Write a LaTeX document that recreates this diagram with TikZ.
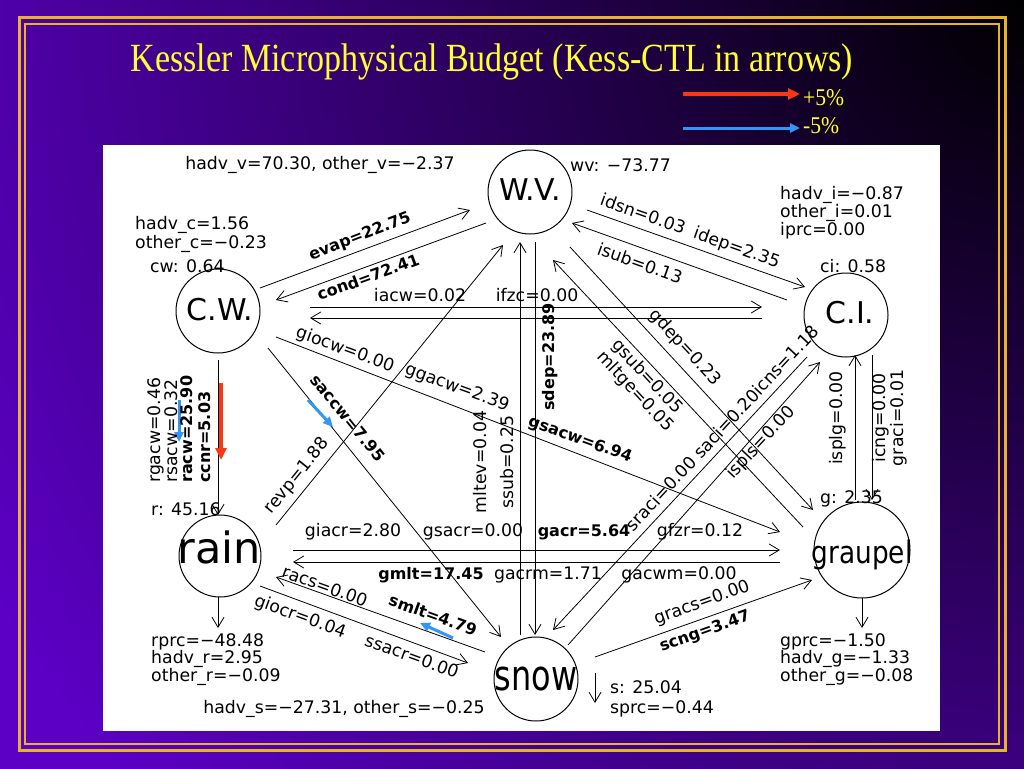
\documentclass[tikz,border=0pt]{standalone}
\usepackage{fontspec}
\setmainfont{Liberation Serif}
\setsansfont{DejaVu Sans}
\usetikzlibrary{arrows.meta}
\definecolor{bgpurple}{RGB}{92,0,198}
\definecolor{framegold}{RGB}{230,180,40}
\definecolor{titleyellow}{RGB}{255,255,50}
\definecolor{plusred}{RGB}{250,55,20}
\definecolor{minusblue}{RGB}{50,150,245}
\begin{document}
\begin{tikzpicture}[x=1pt,y=-1pt,
  lab/.style={font=\sffamily\fontsize{17.3}{17.3}\selectfont, inner sep=0pt},
  blab/.style={font=\sffamily\bfseries\fontsize{16}{16}\selectfont, inner sep=0pt},
  txt/.style={lab, anchor=base west},
  circ/.style={draw, circle, line width=1pt, inner sep=0pt},
  clab/.style={font=\sffamily, inner sep=0pt, anchor=base},
  conn/.style={line width=0.8pt, -{Straight Barb[length=10pt,width=12pt]}},
  hot/.style={plusred, line width=4pt, -{Triangle[length=12pt,width=11pt]}},
  cold/.style={minusblue, line width=3pt, -{Triangle[length=10pt,width=9pt]}},
]
\useasboundingbox (0,0) rectangle (1024,768);
% background
\begin{scope}
\clip (-4,-4) rectangle (1028,772);
\fill[bgpurple] (-4,-4) rectangle (1028,772);
\shade[inner color=black, outer color=bgpurple] (1024,0) circle (1200);
\end{scope}
\draw[framegold, line width=3pt] (19,18) rectangle (1005,750);
\draw[framegold, line width=1.3pt] (25,24) rectangle (999,744);
\fill[white] (103,145) rectangle (940,731);

% title and legend
\node[titleyellow, inner sep=0pt] (title) at (492,62) {\scalebox{0.85}[1]{\fontsize{40}{40}\selectfont Kessler Microphysical Budget (Kess-CTL in arrows)}};
\coordinate (lgRa) at (683,94); \coordinate (lgRb) at (800,94);
\coordinate (lgBa) at (683,128); \coordinate (lgBb) at (800,128);
\draw[hot] (lgRa) -- (lgRb);
\draw[cold] (lgBa) -- (lgBb);
\node[titleyellow, anchor=west, inner sep=0pt] (lgRt) at (803,98) {\scalebox{0.9}[1]{\fontsize{24}{24}\selectfont +5\%}};
\node[titleyellow, anchor=west, inner sep=0pt] (lgBt) at (803,126) {\scalebox{0.9}[1]{\fontsize{24}{24}\selectfont -5\%}};

% circles
\node[circ, minimum size=84pt] (wv) at (530,192) {};
\node[circ, minimum size=84pt] (cw) at (218,311) {};
\node[circ, minimum size=84pt] (ci) at (846,315) {};
\node[circ, minimum size=82pt] (rain) at (220,556) {};
\node[circ, minimum size=84pt] (snow) at (536,679) {};
\node[circ, minimum size=96pt] (graupel) at (862,550) {};
\node[clab] (wvl) at (530,200) {\fontsize{30}{30}\selectfont W.V.};
\node[clab] (cwl) at (220,320) {\fontsize{30}{30}\selectfont C.W.};
\node[clab] (cil) at (850,323) {\fontsize{30}{30}\selectfont C.I.};
\node[clab] (rainl) at (219,563) {\fontsize{43}{43}\selectfont rain};
\node[clab] (snowl) at (536,690) {\scalebox{0.76}[1]{\fontsize{42}{42}\selectfont snow}};
\node[clab] (graupell) at (862,563) {\scalebox{0.85}[1]{\fontsize{31}{31}\selectfont graupel}};

% connector end points
\coordinate (evA) at (260,288); \coordinate (evB) at (470,210);
\coordinate (coA) at (486,223); \coordinate (coB) at (276,300);
\coordinate (iaA) at (310,307); \coordinate (iaB) at (762,307);
\coordinate (ifA) at (762,318); \coordinate (ifB) at (310,318);
\coordinate (idA) at (587,210); \coordinate (idB) at (805,287);
\coordinate (isA) at (787,300); \coordinate (isB) at (572,223);
\coordinate (mlA) at (520,635); \coordinate (mlB) at (520,242);
\coordinate (sdA) at (535,242); \coordinate (sdB) at (535,635);
\coordinate (raA) at (218,360); \coordinate (raB) at (218,515);
\coordinate (saA) at (268,348); \coordinate (saB) at (501,637);
\coordinate (reA) at (276,525); \coordinate (reB) at (503,245);
\coordinate (ggA) at (276,337); \coordinate (ggB) at (780,532);
\coordinate (gaA) at (293,550); \coordinate (gaB) at (780,550);
\coordinate (gmA) at (780,562); \coordinate (gmB) at (293,562);
\coordinate (rcA) at (485,652); \coordinate (rcB) at (276,577);
\coordinate (giA) at (260,586); \coordinate (giB) at (468,663);
\coordinate (gcA) at (595,657); \coordinate (gcB) at (812,580);
\coordinate (srA) at (807,357); \coordinate (srB) at (553,630);
\coordinate (spA) at (568,645); \coordinate (spB) at (820,362);
\coordinate (ipA) at (855,500); \coordinate (ipB) at (855,355);
\coordinate (icA) at (872,355); \coordinate (icB) at (872,500);
\coordinate (gdA) at (570,247); \coordinate (gdB) at (813,510);
\coordinate (gsA) at (803,527); \coordinate (gsB) at (553,260);
\coordinate (rpA) at (218,597); \coordinate (rpB) at (218,628);
\coordinate (gpA) at (862,598); \coordinate (gpB) at (862,628);
\coordinate (spcA) at (595,673); \coordinate (spcB) at (595,703);

\draw[conn] (evA) -- (evB);
\draw[conn] (coA) -- (coB);
\draw[conn] (iaA) -- (iaB);
\draw[conn] (ifA) -- (ifB);
\draw[conn] (idA) -- (idB);
\draw[conn] (isA) -- (isB);
\draw[conn] (mlA) -- (mlB);
\draw[conn] (sdA) -- (sdB);
\draw[conn] (raA) -- (raB);
\draw[conn] (saA) -- (saB);
\draw[conn] (reA) -- (reB);
\draw[conn] (ggA) -- (ggB);
\draw[conn] (gaA) -- (gaB);
\draw[conn] (gmA) -- (gmB);
\draw[conn] (rcA) -- (rcB);
\draw[conn] (giA) -- (giB);
\draw[conn] (gcA) -- (gcB);
\draw[conn] (srA) -- (srB);
\draw[conn] (spA) -- (spB);
\draw[conn] (ipA) -- (ipB);
\draw[conn] (icA) -- (icB);
\draw[conn] (gdA) -- (gdB);
\draw[conn] (gsA) -- (gsB);
\draw[conn] (rpA) -- (rpB);
\draw[conn] (gpA) -- (gpB);
\draw[conn] (spcA) -- (spcB);

% colored change arrows
\coordinate (hrA) at (221,383); \coordinate (hrB) at (221,460);
\coordinate (cbA) at (179,400); \coordinate (cbB) at (179,442);
\coordinate (csA) at (308,400); \coordinate (csB) at (333,427);
\coordinate (cmA) at (453,638); \coordinate (cmB) at (420,623);
\draw[hot] (hrA) -- (hrB);
\draw[cold] (cbA) -- (cbB);
\draw[cold] (csA) -- (csB);
\draw[cold] (cmA) -- (cmB);

% process labels
\node[blab, rotate=21] (evapl) at (360,237) {evap=22.75};
\node[blab, rotate=20] (condl) at (368,277) {cond=72.41};
\node[lab] (iacwl) at (420,295) {iacw=0.02};
\node[lab] (ifzcl) at (537,295) {ifzc=0.00};
\node[lab, rotate=-19.5] (idsnl) at (690,232) {idsn=0.03\hspace{10pt}idep=2.35};
\node[lab, rotate=-19.5] (isubl) at (640,263) {isub=0.13};
\node[lab, rotate=90] (mltevl) at (480,462) {mltev=0.04};
\node[lab, rotate=90] (ssubl) at (507,462) {ssub=0.25};
\node[blab, rotate=90] (sdepl) at (550,357) {sdep=23.89};
\node[lab, rotate=90, anchor=west] (rgacwl) at (156,483) {rgacw=0.46};
\node[lab, rotate=90, anchor=west] (rsacwl) at (171,483) {rsacw=0.32};
\node[blab, rotate=90, anchor=west] (racwl) at (187,483) {racw=25.90};
\node[blab, rotate=90, anchor=west] (ccnrl) at (205,483) {ccnr=5.03};
\node[blab, rotate=-51] (saccwl) at (348,418) {saccw=7.95};
\node[lab, rotate=51] (revpl) at (297,476) {revp=1.88};
\node[lab, rotate=-20] (giocwl) at (345,350) {giocw=0.00};
\node[lab, rotate=-20] (ggacwl) at (457,388) {ggacw=2.39};
\node[blab, rotate=-20] (gsacwl) at (580,440) {gsacw=6.94};
\node[lab] (giacrl) at (353,532) {giacr=2.80};
\node[lab] (gsacrl) at (473,532) {gsacr=0.00};
\node[blab] (gacrl) at (584,532) {gacr=5.64};
\node[lab] (gfzrl) at (700,532) {gfzr=0.12};
\node[blab] (gmltl) at (431,575) {gmlt=17.45};
\node[lab] (gacrml) at (548,575) {gacrm=1.71};
\node[lab] (gacwml) at (679,575) {gacwm=0.00};
\node[lab, rotate=-20] (racsl) at (325,586) {racs=0.00};
\node[blab, rotate=-20] (smltl) at (433,615) {smlt=4.79};
\node[lab, rotate=-20] (giocrl) at (300,617) {giocr=0.04};
\node[lab, rotate=-20] (ssacrl) at (412,656) {ssacr=0.00};
\node[lab, rotate=19.5] (gracsl) at (702,603) {gracs=0.00};
\node[blab, rotate=19.5] (scngl) at (705,632) {scng=3.47};
\node[lab, rotate=47] (sracil) at (722,428) {sraci=0.00 saci=0.20icns=1.18};
\node[lab, rotate=47] (isplsl) at (761,443) {ispls=0.00};
\node[lab, rotate=-47] (gdepl) at (685,348) {gdep=0.23};
\node[lab, rotate=-47] (gsubl) at (647,377) {gsub=0.05};
\node[lab, rotate=-47] (mltgel) at (635,392) {mltge=0.05};
\node[lab, rotate=90] (isplgl) at (838,418) {isplg=0.00};
\node[lab, rotate=90] (icngl) at (881,418) {icng=0.00};
\node[lab, rotate=90] (gracil) at (899,418) {graci=0.01};

% budget texts
\node[lab, anchor=base] (hadvv) at (320,169) {hadv\_v=70.30, other\_v=−2.37};
\node[txt] (wvt) at (570,171) {wv: −73.77};
\node[txt] (hadvc) at (135,229) {hadv\_c=1.56};
\node[txt] (otherc) at (135,248) {other\_c=−0.23};
\node[txt] (cwt) at (150,272) {cw: 0.64};
\node[txt] (hadvi) at (780,199) {hadv\_i=−0.87};
\node[txt] (otheri) at (780,217) {other\_i=0.01};
\node[txt] (iprc) at (780,235) {iprc=0.00};
\node[txt] (cit) at (820,272) {ci: 0.58};
\node[txt] (gt) at (820,503) {g: 2.35};
\node[txt] (rt) at (151,515) {r: 45.16};
\node[txt] (rprc) at (151,646) {rprc=−48.48};
\node[txt] (hadvr) at (151,663) {hadv\_r=2.95};
\node[txt] (otherr) at (151,681) {other\_r=−0.09};
\node[txt] (gprc) at (780,646) {gprc=−1.50};
\node[txt] (hadvg) at (780,663) {hadv\_g=−1.33};
\node[txt] (otherg) at (780,681) {other\_g=−0.08};
\node[txt] (st) at (610,693) {s: 25.04};
\node[txt] (sprc) at (610,713) {sprc=−0.44};
\node[lab, anchor=base] (hadvs) at (344,713) {hadv\_s=−27.31, other\_s=−0.25};
\end{tikzpicture}
\end{document}
